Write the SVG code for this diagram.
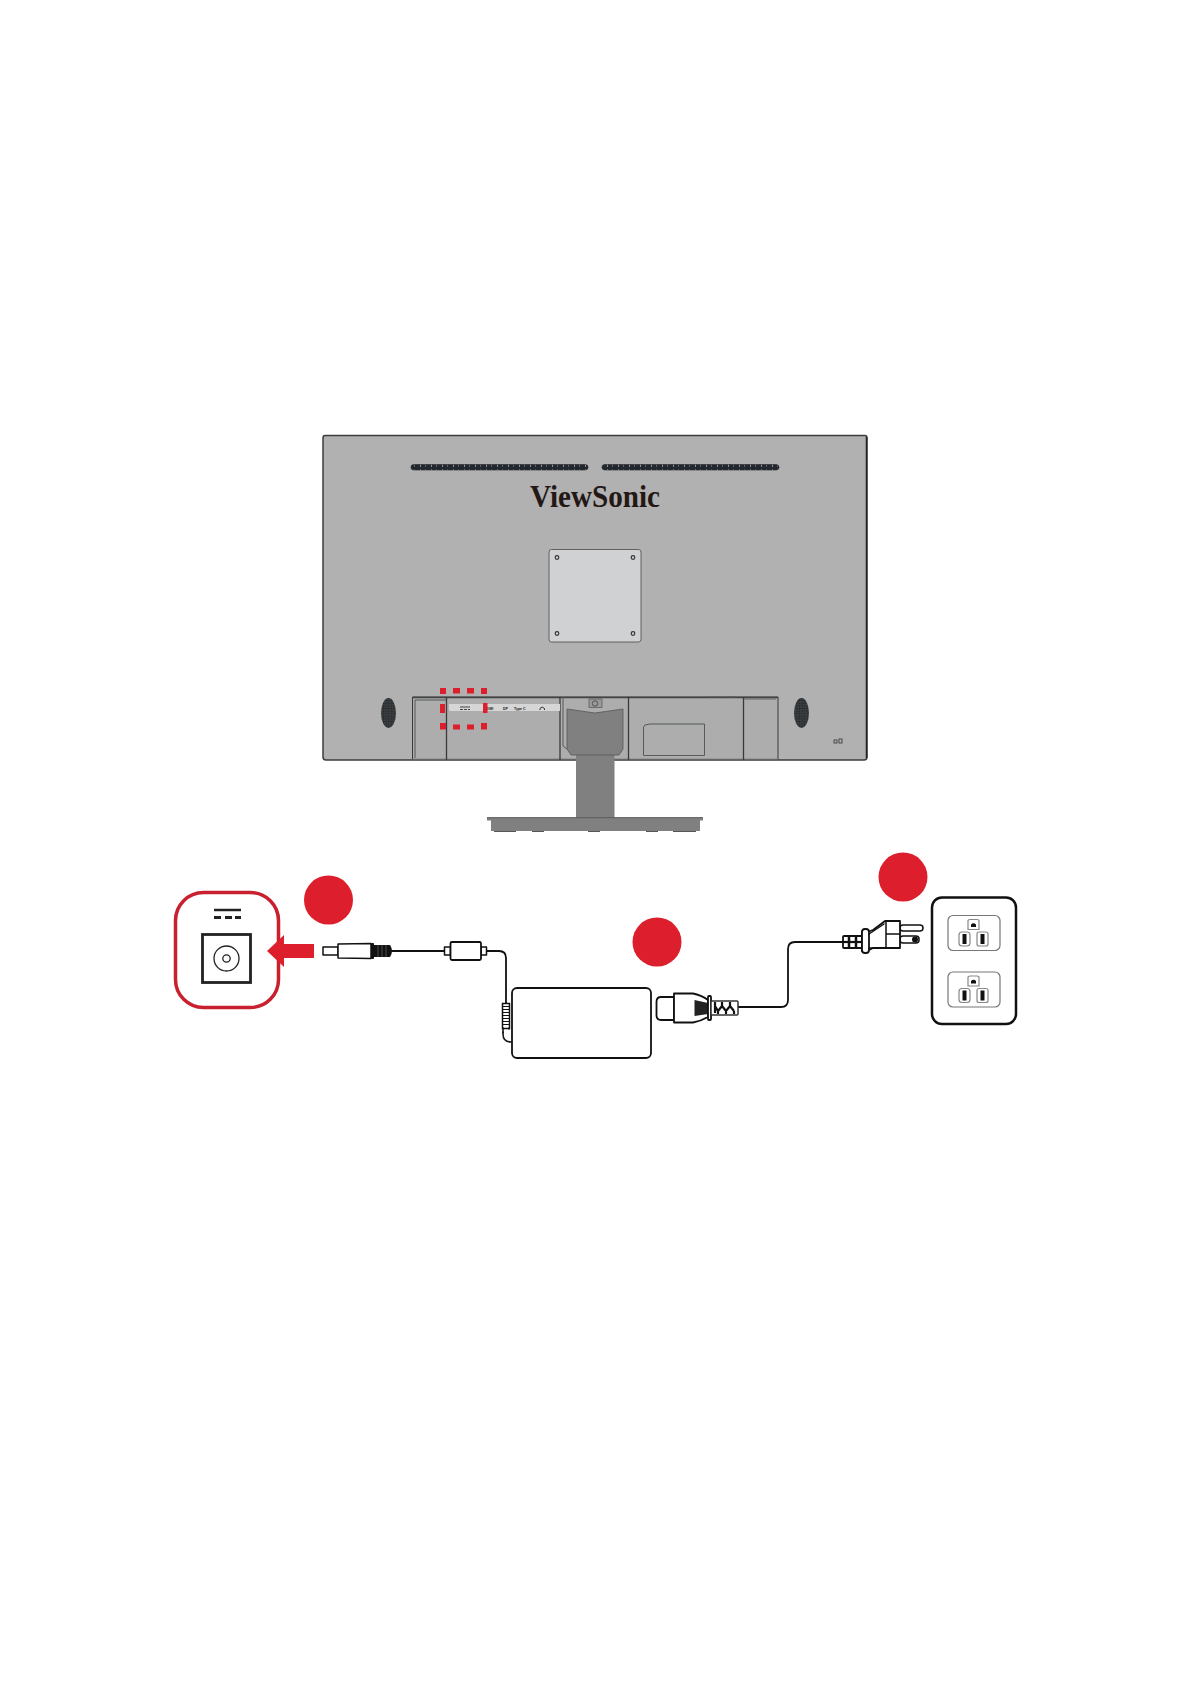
<svg xmlns="http://www.w3.org/2000/svg" width="1191" height="1684" viewBox="0 0 1191 1684">
<defs>
<style>
.k{fill:none;stroke:#111;stroke-linecap:round;stroke-linejoin:round}
.w{fill:#fff;stroke:#111;stroke-linejoin:round}
.r{fill:#dd1f2d}
.p{fill:none;stroke:#555a5c;stroke-width:1}
.pl{fill:none;stroke:#3a3a3a;stroke-width:1.3}
.lb{font-family:"Liberation Sans",Arial,sans-serif;font-size:3.6px;font-weight:700;fill:#222}
.g{fill:#fff;stroke:#888;stroke-width:1.2}
</style>
<pattern id="dots" width="2.6" height="2.6" patternUnits="userSpaceOnUse"><rect width="2.6" height="2.6" fill="#3a3d40"/><circle cx="1.3" cy="1.3" r="0.7" fill="#1d2024"/></pattern>
<pattern id="ticks" width="11" height="6" patternUnits="userSpaceOnUse"><rect width="11" height="6" fill="#23272e"/><rect x="2" y="1" width="1" height="4" fill="#8d9095"/><rect x="7" y="1" width="0.8" height="4" fill="#6d7075"/></pattern>
</defs>
<rect width="1191" height="1684" fill="#fff"/>

<g id="monitor">
<path d="M325 435.500H865Q867 435.500 867 438V757Q867 760 864 760H326Q323 760 323 757V438Q323 435.500 325 435.500Z" fill="#b1b1b1" stroke="#3c3c3c" stroke-width="1.500"/>
<path d="M866.500 437V758" stroke="#222" stroke-width="1.500"/>
<rect x="411" y="464.500" width="177" height="5.500" rx="2.700" fill="url(#ticks)" stroke="#23272e" stroke-width="0.600"/>
<rect x="602" y="464.500" width="177" height="5.500" rx="2.700" fill="url(#ticks)" stroke="#23272e" stroke-width="0.600"/>
<text x="530" y="507" font-family="Liberation Serif,Times New Roman,serif" font-size="31" font-weight="700" fill="#231815" textLength="130" lengthAdjust="spacingAndGlyphs">ViewSonic</text>
</g>

<g id="vesa-plate">
<rect x="549" y="549.500" width="92" height="92.500" rx="2.500" fill="#d0d1d3" stroke="#606060" stroke-width="1"/>
<g fill="none" stroke="#333" stroke-width="1.200"><circle cx="557" cy="557.500" r="1.800"/><circle cx="633" cy="557.500" r="1.800"/><circle cx="633" cy="633.500" r="1.800"/><circle cx="557" cy="633.500" r="1.800"/></g>
</g>

<g id="speakers">
<ellipse cx="388.500" cy="713" rx="7.500" ry="15" fill="url(#dots)"/>
<ellipse cx="801.500" cy="713" rx="7.500" ry="15" fill="url(#dots)"/>
</g>

<g id="rear-panel">
<path d="M412.500 760V697H778V760" fill="#adadad" stroke="#3a3a3a" stroke-width="1"/>
<path d="M412.500 697.500H778" stroke="#444" stroke-width="1.500"/>
<path d="M412.500 759.500H778" stroke="#666" stroke-width="1.500"/>
<path class="pl" d="M446.500 697V760"/>
<path class="p" d="M415 700H446M415 700V758"/>
<path class="pl" d="M560 697V760"/>
<path class="p" d="M563 697V746L567 749"/>
<path class="pl" d="M628.500 697V760M743.500 697V760"/>
<path class="p" d="M645 725L650 724H704.500V755.500H643.500V727Z"/>
<path class="p" d="M708 697H736" stroke-dasharray="3 2"/>
<path d="M744 699H776" stroke="#666" stroke-width="1"/>
<path d="M449 704H560V711H451Q449 711 449 709Z" fill="#d6d6d6"/>
<path d="M460 707H470M460 709.500H463M464 709.500H467M468 709.500H470" stroke="#333" stroke-width="0.900"/>
<text class="lb" x="484" y="709.500">HDMI</text>
<text class="lb" x="503" y="709.500">DP</text>
<text class="lb" x="514" y="709.500">Type C</text>
<path d="M540 710V708.500Q542 705.500 544.500 708.500V710" fill="none" stroke="#222" stroke-width="0.900"/>
<rect x="839" y="739" width="3" height="4" fill="none" stroke="#333" stroke-width="0.800"/>
<rect x="834" y="740" width="3" height="3" fill="none" stroke="#333" stroke-width="0.800"/>
</g>

<g id="stand">
<rect x="576" y="750" width="38.500" height="68" fill="#808080"/>
<path d="M567 709L595 713L623 709V749L619 755H571L567 749Z" fill="#808080" stroke="#555" stroke-width="0.800"/>
<rect x="589" y="699" width="13" height="8.500" fill="#9a9a9a" stroke="#555" stroke-width="0.700"/>
<circle cx="595" cy="703.500" r="2.700" fill="none" stroke="#444" stroke-width="0.800"/>
<path d="M487 817.500H703V820.500H700V831H491V820.500H487Z" fill="#808080"/>
<path d="M487 817.700H703" stroke="#5a5a5a" stroke-width="1"/>
<path d="M494 831.500H516M532 831.500H544M588 831.500H600M646 831.500H658M673 831.500H696" stroke="#555" stroke-width="1.200"/>
</g>

<g id="highlight-dashes" fill="#dd1f2d">
<rect x="440" y="688" width="6" height="6"/><rect x="453" y="688" width="7" height="5.500"/><rect x="467" y="688" width="7" height="5.500"/><rect x="481" y="688" width="6" height="6"/>
<rect x="440" y="704" width="5" height="9"/><rect x="483" y="703" width="4.500" height="10"/>
<rect x="440" y="723" width="6" height="6.500"/><rect x="453" y="724.500" width="7" height="5"/><rect x="467" y="724.500" width="7" height="5"/><rect x="481" y="723" width="6" height="6.500"/>
</g>

<g id="port-callout">
<rect x="175.500" y="892.500" width="103" height="115" rx="28" fill="#fff" stroke="#c8202f" stroke-width="3.500"/>
<path d="M214 910H241" stroke="#222" stroke-width="2.500"/>
<path d="M214 917.500H221M225 917.500H232M235 917.500H241" stroke="#222" stroke-width="2.800"/>
<rect x="202.500" y="934.500" width="48" height="48" fill="#fff" stroke="#222" stroke-width="2.800"/>
<circle cx="226.500" cy="958.500" r="12.500" fill="none" stroke="#222" stroke-width="1.300"/>
<circle cx="226.500" cy="958.500" r="3.700" fill="none" stroke="#222" stroke-width="1.300"/>
</g>

<g id="arrow"><path class="r" d="M267 951L284 935V944H314V958H284V967Z"/></g>
<g id="badge-1"><circle class="r" cx="328.500" cy="900" r="24.500"/></g>
<g id="badge-2"><circle class="r" cx="657" cy="942" r="24.500"/></g>
<g id="badge-3"><circle class="r" cx="903" cy="877" r="24.500"/></g>

<g id="connectors">
<path class="k" stroke-width="1.800" d="M392 951H444"/>
<path class="k" stroke-width="1.800" d="M486 951H499Q506 951 506 958V1003"/>
<path class="k" stroke-width="1.800" d="M738 1007H781Q788 1007 788 1000V949Q788 942 795 942H843"/>
</g>

<g id="dc-plug">
<rect class="w" stroke-width="1.500" x="323" y="947" width="15" height="8"/>
<path class="w" stroke-width="1.500" d="M338 944L371 943.500V958.500L338 958Z"/>
<rect x="371" y="943" width="3" height="16" rx="1" fill="#111"/>
<path d="M374 945H390Q392 948 392 951Q392 954 390 957H374Z" fill="#111"/>
<path d="M378 945V957M382 945V957M386 945V957" stroke="#888" stroke-width="0.500"/>
</g>

<g id="ferrite">
<rect class="w" stroke-width="1.500" x="444.500" y="947" width="6" height="8"/>
<rect class="w" stroke-width="1.500" x="481" y="947" width="5.500" height="8"/>
<rect class="w" stroke-width="1.800" x="450.500" y="942" width="30.500" height="18" rx="1.500"/>
</g>

<g id="power-adapter">
<rect class="w" stroke-width="1.800" x="512" y="988" width="139" height="70" rx="5"/>
<path class="k" stroke-width="1.500" d="M503 1032V1034Q503 1042 511 1042"/>
<rect x="502.500" y="1003.500" width="7" height="25" fill="#fff" stroke="#111" stroke-width="1.500"/>
<path d="M503 1006.500H509M503 1009.500H509M503 1012.500H509M503 1015.500H509M503 1018.500H509M503 1021.500H509M503 1024.500H509" stroke="#111" stroke-width="1"/>
<path class="k" stroke-width="1.500" d="M503 1028V1033M509 1028V1029"/>
</g>

<g id="c5-plug">
<path class="w" stroke-width="1.800" d="M674 997H661Q656.500 997 656.500 1002V1015Q656.500 1020 661 1020H674Z"/>
<path class="w" stroke-width="1.800" d="M674 993.500H693Q701 995 708 1000V1017Q701 1021 693 1022.500H674Z"/>
<path d="M694.500 1000L708 1003V1014L694.500 1016Z" fill="#222"/>
<rect class="w" stroke-width="1.800" x="708" y="996" width="3" height="24" rx="1"/>
<rect x="711" y="1001" width="27" height="14" rx="1" fill="#fff" stroke="#333" stroke-width="1.500"/>
<path d="M715 1002V1006L718 1011L722 1006L726 1011L730 1006L734 1011M715 1006V1013M722 1002V1006M730 1002V1006M726 1011V1014M718 1011V1014M734 1011V1014" fill="none" stroke="#111" stroke-width="2.200"/>
</g>

<g id="wall-plug">
<rect class="w" stroke-width="1.800" x="843" y="936" width="20" height="12" rx="1"/>
<path d="M849 936V948M856 936V948" stroke="#111" stroke-width="2.500"/>
<path d="M843 942H863" stroke="#111" stroke-width="2.200"/>
<rect class="w" stroke-width="1.500" x="900" y="925" width="23" height="6" rx="3"/>
<rect class="w" stroke-width="1.500" x="900" y="936" width="19" height="7" rx="3"/>
<circle cx="915" cy="939.500" r="3" fill="#111"/>
<path class="w" stroke-width="1.800" d="M862 932H867L873 930L885 921H900V948H873L867 951H862Z"/>
<rect class="w" stroke-width="1.800" x="862" y="929" width="7" height="24" rx="3"/>
<path class="k" stroke-width="1.500" d="M886 921V948M886 934H900M869 934L884 924M869 948H885"/>
</g>

<g id="wall-outlet">
<rect x="932" y="897.500" width="84" height="126.500" rx="10" fill="#fff" stroke="#111" stroke-width="2.500"/>
<g id="socket-1">
<rect x="948" y="915.500" width="52" height="35" rx="5" fill="#fff" stroke="#777" stroke-width="1.200"/>
<path class="g" d="M968 920.500Q968 919.500 970 919.500H977Q979 919.500 979 920.500V929.500H968Z"/>
<path d="M971 927V924.500Q973.500 922 976 924.500V927Z" fill="#111"/>
<rect class="g" x="959" y="932" width="11" height="14" rx="3"/>
<rect class="g" x="977" y="932" width="11" height="14" rx="2"/>
<rect x="962.500" y="934" width="4" height="10" fill="#111"/>
<rect x="980.500" y="934" width="4" height="10" fill="#111"/>
</g>
<g id="socket-2">
<rect x="948" y="972" width="52" height="35" rx="5" fill="#fff" stroke="#777" stroke-width="1.200"/>
<path class="g" d="M968 977Q968 976 970 976H977Q979 976 979 977V986H968Z"/>
<path d="M971 983.500V981Q973.500 978.500 976 981V983.500Z" fill="#111"/>
<rect class="g" x="959" y="988.500" width="11" height="14" rx="3"/>
<rect class="g" x="977" y="988.500" width="11" height="14" rx="2"/>
<rect x="962.500" y="990.500" width="4" height="10" fill="#111"/>
<rect x="980.500" y="990.500" width="4" height="10" fill="#111"/>
</g>
</g>
</svg>
